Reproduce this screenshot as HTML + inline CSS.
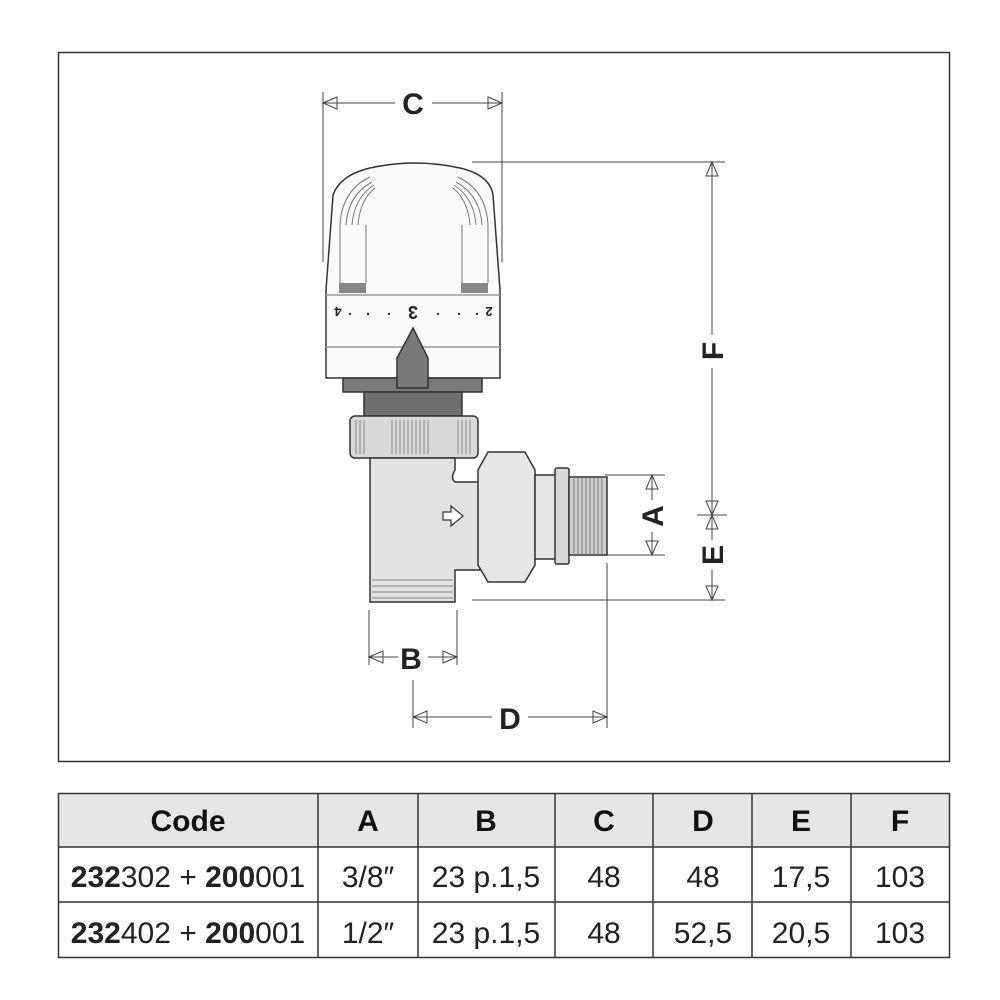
<!DOCTYPE html>
<html><head><style>
body{margin:0;background:#fff;}
svg{display:block;font-family:"Liberation Sans",sans-serif;}
</style></head><body>
<svg width="1000" height="1000" viewBox="0 0 1000 1000" xmlns="http://www.w3.org/2000/svg">
<rect x="58.5" y="52.5" width="891" height="709" fill="#fff" stroke="#333" stroke-width="1.5"/>
<g stroke="#444" stroke-width="1" fill="none">
 <line x1="323" y1="92" x2="323" y2="262"/><line x1="502" y1="92" x2="502" y2="262"/>
 <line x1="323" y1="103" x2="395" y2="103"/><line x1="432" y1="103" x2="502" y2="103"/>
 <line x1="472" y1="162" x2="725" y2="162"/><line x1="712" y1="162" x2="712" y2="335"/><line x1="712" y1="368" x2="712" y2="515"/>
 <line x1="697" y1="515" x2="727" y2="515"/><line x1="712" y1="515" x2="712" y2="540"/><line x1="712" y1="570" x2="712" y2="600"/>
 <line x1="472" y1="600" x2="725" y2="600"/>
 <line x1="605" y1="475" x2="665" y2="475"/><line x1="605" y1="555" x2="665" y2="555"/>
 <line x1="652" y1="475" x2="652" y2="500"/><line x1="652" y1="532" x2="652" y2="555"/>
 <line x1="369" y1="610" x2="369" y2="665"/><line x1="457" y1="610" x2="457" y2="665"/>
 <line x1="369" y1="657" x2="398" y2="657"/><line x1="428" y1="657" x2="457" y2="657"/>
 <line x1="413" y1="680" x2="413" y2="728"/><line x1="607" y1="563" x2="607" y2="728"/>
 <line x1="413" y1="717" x2="492" y2="717"/><line x1="528" y1="717" x2="607" y2="717"/>
 <path d="M323 103 l14 -6 v12z M502 103 l-14 -6 v12z"/>
 <path d="M712 162 l-6 14 h12z M712 515 l-6 -14 h12z M712 515 l-6 14 h12z M712 600 l-6 -14 h12z"/>
 <path d="M652 475 l-6 14 h12z M652 555 l-6 -14 h12z"/>
 <path d="M369 657 l14 -6 v12z M457 657 l-14 -6 v12z"/>
 <path d="M413 717 l14 -6 v12z M607 717 l-14 -6 v12z"/>
</g>
<g font-weight="bold" font-size="30" fill="#222" text-anchor="middle">
 <text x="413" y="114">C</text>
 <text x="411" y="669">B</text>
 <text x="510" y="729">D</text>
 <text transform="translate(723,351) rotate(-90)">F</text>
 <text transform="translate(663,516) rotate(-90)">A</text>
 <text transform="translate(723,555) rotate(-90)">E</text>
</g>
<g stroke="#333" stroke-width="1.5">
 <path d="M333 195 Q340 175 370 168 Q415 158 460 168 Q490 175 493 195 L500 290 L500 378 L326 378 L326 290 Z" fill="#fafafa"/>
 <line x1="326" y1="295" x2="500" y2="295" stroke="#999"/>
 <line x1="326" y1="347" x2="500" y2="347" stroke="#999"/>
 <rect x="339" y="283" width="27" height="10" fill="#888" stroke="none"/>
 <rect x="461" y="283" width="27" height="10" fill="#888" stroke="none"/>
 <g stroke="#777" stroke-width="1" fill="none">
  <path d="M340 225 Q342 190 370 177"/><path d="M346 225 Q348 195 372 182"/><path d="M352 225 Q354 198 374 185"/><path d="M358 225 Q360 200 375 188"/><path d="M340 225 V283 M366 225 V283"/>
  <path d="M488 225 Q486 190 458 177"/><path d="M482 225 Q480 195 456 182"/><path d="M476 225 Q474 198 454 185"/><path d="M470 225 Q468 200 453 188"/><path d="M488 225 V283 M462 225 V283"/>
 </g>
 <path d="M343 378 H482 V392 H343 Z" fill="#7a7a7a"/>
 <rect x="364" y="392" width="98" height="24" fill="#6f6f6f"/>
 <path d="M397 358 L413 328 L428 358 V388 H397 Z" fill="#7a7a7a"/>
 <rect x="350" y="416" width="128" height="42" rx="5" fill="#d8d8d8"/>
 <g stroke="#777" stroke-width="0.8">
  <path d="M356 420v34M360 420v34M364 420v34M392 420v34M396 420v34M400 420v34M404 420v34M408 420v34M412 420v34M416 420v34M420 420v34M424 420v34M428 420v34M458 420v34M462 420v34M466 420v34M470 420v34"/>
 </g>
 <path d="M370 458 H455 V470 Q450 478 455 482 H480 V570 H455 V602 H370 V570 Z" fill="#e2e2e2"/>
 <g stroke="#666" stroke-width="0.8"><path d="M372 580H453M372 586H453M372 592H453M372 598H453"/></g>
 <path d="M488 452 H525 L535 470 V565 L525 582 H488 L478 565 V470 Z" fill="#e6e6e6"/>
 <rect x="535" y="475" width="22" height="84" fill="#e6e6e6"/>
 <rect x="555" y="468" width="14" height="96" rx="2" fill="#d8d8d8"/>
 <rect x="569" y="477" width="38" height="78" fill="#cfcfcf"/>
 <g stroke="#666" stroke-width="0.8"><path d="M574 477v78M578 477v78M582 477v78M586 477v78M590 477v78M594 477v78M598 477v78M602 477v78"/></g>
 <path d="M443 512 h8 v-6 l12 10 l-12 10 v-6 h-8z" fill="#fff" stroke-width="1.2"/>
</g>
<g fill="#333">
 <circle cx="350" cy="314" r="1.2"/><circle cx="368" cy="314" r="1.2"/><circle cx="389" cy="314" r="1.2"/>
 <circle cx="438" cy="314" r="1.2"/><circle cx="459" cy="314" r="1.2"/><circle cx="477" cy="314" r="1.2"/>
</g>
<g font-size="18" fill="#222" text-anchor="middle" font-weight="bold">
 <text transform="translate(413,306) rotate(180)">3</text>
 <text transform="translate(338,307) rotate(180)" font-size="13">4</text>
 <text transform="translate(489,307) rotate(180)" font-size="13">2</text>
</g>
<rect x="58" y="793" width="892" height="54" fill="#e6e6e6"/>
<g stroke="#333" stroke-width="1.5" fill="none">
 <rect x="58.5" y="793.5" width="891" height="164"/>
 <line x1="58" y1="847" x2="950" y2="847"/><line x1="58" y1="902" x2="950" y2="902"/>
 <path d="M318 793V958M418 793V958M555 793V958M653 793V958M752 793V958M851 793V958"/>
</g>
<g font-size="30" font-weight="bold" fill="#111" text-anchor="middle">
 <text x="188" y="831">Code</text><text x="368" y="831">A</text><text x="486" y="831">B</text>
 <text x="604" y="831">C</text><text x="703" y="831">D</text><text x="801" y="831">E</text><text x="900" y="831">F</text>
</g>
<g font-size="30" fill="#222" text-anchor="middle">
 <text x="188" y="887"><tspan font-weight="bold">232</tspan>302 + <tspan font-weight="bold">200</tspan>001</text>
 <text x="368" y="887">3/8″</text><text x="486" y="887">23 p.1,5</text><text x="604" y="887">48</text>
 <text x="703" y="887">48</text><text x="801" y="887">17,5</text><text x="900" y="887">103</text>
 <text x="188" y="943"><tspan font-weight="bold">232</tspan>402 + <tspan font-weight="bold">200</tspan>001</text>
 <text x="368" y="943">1/2″</text><text x="486" y="943">23 p.1,5</text><text x="604" y="943">48</text>
 <text x="703" y="943">52,5</text><text x="801" y="943">20,5</text><text x="900" y="943">103</text>
</g>
</svg>
</body></html>
